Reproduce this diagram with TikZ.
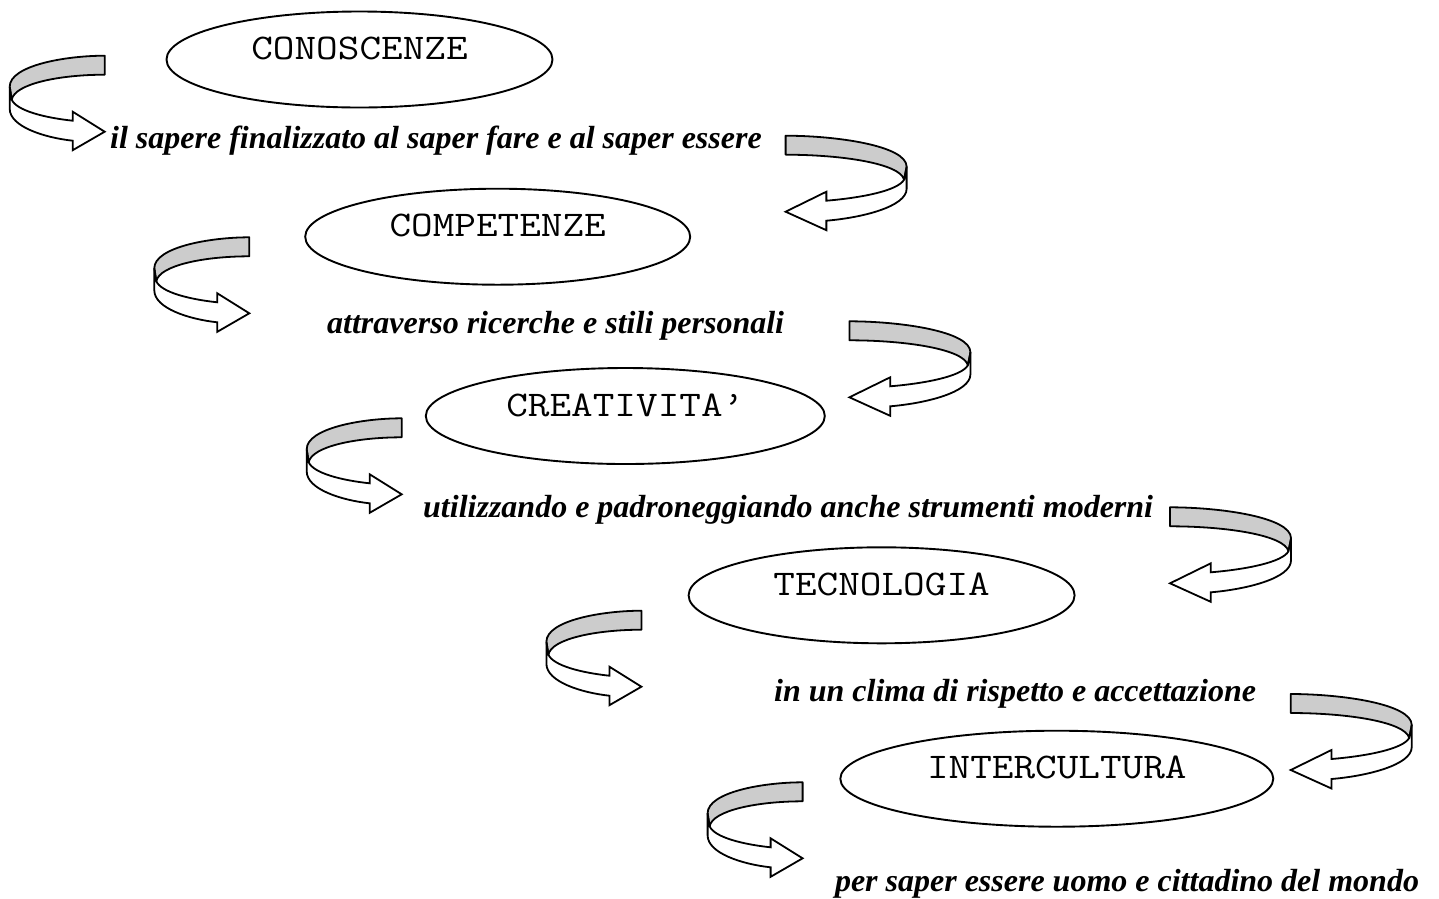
\documentclass[tikz,border=0pt]{standalone}
\usepackage{fontspec}
\usepackage{graphicx}
\usetikzlibrary{shapes.geometric}
\newfontfamily\tnr{Liberation Serif}
\tikzset{
  boxell/.style={draw, line width=1.9pt, ellipse, inner sep=0pt, minimum height=96pt},
  boxtext/.style={inner sep=0pt, font=\ttfamily\fontsize{42}{44}\selectfont},
  phrase/.style={inner sep=0pt, anchor=base west, font=\tnr\bfseries\itshape\fontsize{32}{36}\selectfont},
  ribbonback/.style={draw, fill=black!20, line width=1.8pt, line join=round},
  ribbonfront/.style={draw, fill=white, line width=1.8pt, line join=miter},
  larrow/.pic={
    \path[ribbonback] (0,-76) .. controls (-40,-76) and (-95,-66) .. (-95,-45)
       -- (-93,-32) .. controls (-90,-48) and (-45,-57) .. (0,-57) -- cycle;
    \path[ribbonfront] (-95,-45) -- (-95,-23) .. controls (-95,-5) and (-60,6) .. (-32,9)
       -- (-32,18.5) -- (0,0) -- (-32,-20) -- (-32,-11)
       .. controls (-60,-14) and (-88,-21) .. (-93,-32) -- cycle;
    \coordinate (-tip) at (0,0);
  }
}
\newcommand{\vsq}[1]{\scalebox{1}[0.86]{#1}}
\begin{document}
\begin{tikzpicture}[x=1pt,y=-1pt]
\useasboundingbox (0,0) rectangle (1439,898);
% ellipses
\node[boxell, minimum width=386pt] (e1) at (359.5,59.5) {};
\node[boxell, minimum width=385pt] (e2) at (497.7,236.7) {};
\node[boxell, minimum width=399pt] (e3) at (625.3,416) {};
\node[boxell, minimum width=386pt] (e4) at (881.6,595.3) {};
\node[boxell, minimum width=433pt] (e5) at (1056.8,778.7) {};
\node[boxtext] (t1) at ([yshift=11pt]e1.center) {\vsq{CONOSCENZE}};
\node[boxtext] (t2) at ([yshift=11pt]e2.center) {\vsq{COMPETENZE}};
\node[boxtext] (t3) at ([yshift=11pt]e3.center) {\vsq{CREATIVITA’}};
\node[boxtext] (t4) at ([yshift=11pt]e4.center) {\vsq{TECNOLOGIA}};
\node[boxtext] (t5) at ([yshift=11pt]e5.center) {\vsq{INTERCULTURA}};
% phrases
\node[phrase] (p1) at (110,148) {il sapere finalizzato al saper fare e al saper essere};
\node[phrase] (p2) at (327,333) {attraverso ricerche e stili personali};
\node[phrase] (p3) at (423,517) {utilizzando e padroneggiando anche strumenti moderni};
\node[phrase] (p4) at (774,701.7) {in un clima di rispetto e accettazione};
\node[phrase] (p5) at (834.8,891.7) {per saper essere uomo e cittadino del mondo};
% left arrows (pointing right)
\pic (la1) at (104.7,131.7) {larrow};
\pic (la2) at (249.3,313.3) {larrow};
\pic (la3) at (401.7,494.3) {larrow};
\pic (la4) at (641.4,686.7) {larrow};
\pic (la5) at (802.6,858.3) {larrow};
% right arrows (pointing left)
\pic[xscale=-1.274] (ra1) at (785.6,211.7) {larrow};
\pic[xscale=-1.274] (ra2) at (849.4,397.3) {larrow};
\pic[xscale=-1.274] (ra3) at (1170,583.3) {larrow};
\pic[xscale=-1.274] (ra4) at (1290.7,770) {larrow};
\end{tikzpicture}
\end{document}
